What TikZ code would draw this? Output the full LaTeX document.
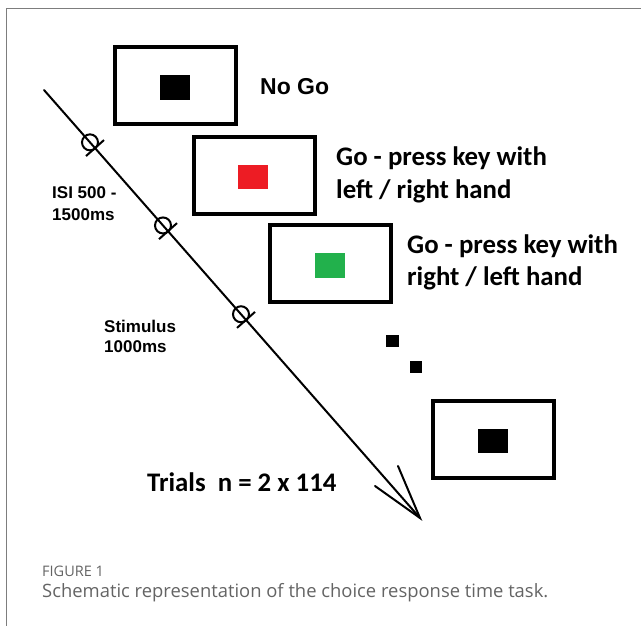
\documentclass[tikz,border=0pt]{standalone}
\usepackage{fontspec}
\setmainfont{Liberation Sans}
\newfontfamily\calib{Carlito}
\newfontfamily\capfont{Open Sans}
\definecolor{framegray}{RGB}{125,125,125}
\definecolor{capgray}{RGB}{100,100,100}
\definecolor{stimred}{RGB}{237,28,36}
\definecolor{stimgreen}{RGB}{34,177,76}
\tikzset{
  screen/.style={draw=black, line width=4pt, fill=white, inner sep=0pt, minimum width=121pt, minimum height=77pt},
  stim/.style={draw=none, inner sep=0pt, minimum width=30pt, minimum height=24.5pt},
  dotsq/.style={fill=black, inner sep=0pt, minimum width=12.5pt, minimum height=12pt},
  arial/.style={inner sep=0pt, anchor=base west, font=\fontsize{17}{20}\selectfont\bfseries},
  nogo/.style={inner sep=0pt, anchor=base west, font=\fontsize{23}{26}\selectfont\bfseries},
  calbold/.style={inner sep=0pt, anchor=base west, font=\calib\fontsize{26.8}{30}\selectfont\bfseries},
  timeline/.style={line width=2pt, line cap=round},
  mark circle/.style={draw=black, line width=2pt, circle, inner sep=0pt, minimum size=16pt},
}
\begin{document}
\begin{tikzpicture}[x=1pt,y=-1pt]
\useasboundingbox (0,0) rectangle (641,626);
% frame
\coordinate (fa) at (6.5,626);
\coordinate (fb) at (6.5,8.5);
\coordinate (fc) at (641,8.5);
\draw[framegray, line width=1.5pt] (fa) -- (fb) -- (fc);

% timeline
\coordinate (tstart) at (44,90);
\coordinate (ttip) at (420,518);
\coordinate (arm1) at (398,466);
\coordinate (arm2) at (375,486);
\draw[timeline] (tstart) -- (ttip);
\draw[timeline] (arm1) -- (ttip) -- (arm2);

% markers
\foreach \i/\x in {1/90,2/163,3/241}{
  \path (tstart) -- (ttip) coordinate[pos={(\x-44)/376}] (c\i);
  \node[mark circle] (m\i) at (c\i) {};
  \path (tstart) -- (ttip) coordinate[pos={(\x+5-44)/376}] (k\i);
  \draw[line width=2pt] ([shift={(-9,8)}]k\i) -- ([shift={(9,-8)}]k\i);
}

% screens
\node[screen] (s1) at (175.5,86) {};
\node[stim, fill=black] (q1) at (175,87.5) {};
\node[screen] (s2) at (254,175.5) {};
\node[stim, fill=stimred] (q2) at (253,177) {};
\node[screen] (s3) at (330.5,263) {};
\node[stim, fill=stimgreen] (q3) at (330,265.5) {};
\node[screen] (s4) at (493.5,439.5) {};
\node[stim, fill=black] (q4) at (493,441) {};

% dots
\node[dotsq] (d1) at (392.5,341) {};
\node[dotsq] (d2) at (416,367) {};

% labels
\node[nogo] (lnogo) at (260,95) {No Go};
\node[calbold] (lg1a) at (336,166) {Go - press key with};
\node[calbold] (lg1b) at (336,198) {left / right hand};
\node[calbold] (lg2a) at (407,253) {Go - press key with};
\node[calbold] (lg2b) at (407,285) {right / left hand};
\node[arial] (isia) at (52,199) {ISI 500 -};
\node[arial] (isib) at (52,220) {1500ms};
\node[arial] (stima) at (104,332) {Stimulus};
\node[arial] (stimb) at (104,352) {1000ms};
\node[calbold] (trials) at (147,491) {Trials\ \ n = 2 x 114};

% caption
\node[inner sep=0pt, anchor=base west, text=capgray, font=\capfont\fontsize{14.5}{17}\selectfont] (figno) at (42,576) {FIGURE 1};
\node[inner sep=0pt, anchor=base west, text=capgray, font=\capfont\fontsize{18.4}{21}\selectfont] (cap) at (42,597) {Schematic representation of the choice response time task.};
\end{tikzpicture}
\end{document}
